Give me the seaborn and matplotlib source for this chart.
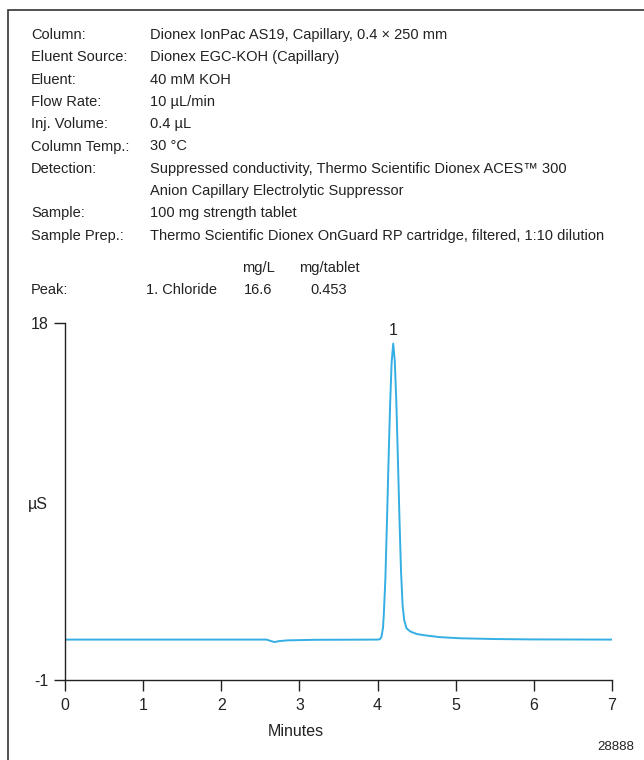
import matplotlib
matplotlib.use('Agg')
import matplotlib.pyplot as plt
import seaborn as sns
import pandas as pd
from matplotlib.patches import Rectangle

# chromatogram trace
minutes = [0.00, 2.58, 2.63, 2.68, 2.74, 2.85, 3.20, 4.00, 4.03, 4.05, 4.07, 4.08,
           4.10, 4.12, 4.14, 4.16, 4.18, 4.20, 4.22, 4.24, 4.26, 4.28, 4.30, 4.32,
           4.34, 4.37, 4.42, 4.50, 4.60, 4.80, 5.06, 5.50, 6.00, 7.00]
signal = [1.15, 1.15, 1.08, 1.02, 1.07, 1.11, 1.14, 1.15, 1.17, 1.30, 1.80, 2.50,
          4.40, 7.40, 10.6, 13.6, 15.9, 16.9, 16.0, 13.8, 10.8, 7.60, 4.80, 3.00,
          2.20, 1.75, 1.58, 1.45, 1.38, 1.28, 1.22, 1.18, 1.16, 1.15]

x_ticks = [0, 1, 2, 3, 4, 5, 6, 7]
y_ticks = [-1, 18]

cond_labels = ['Column:', 'Eluent Source:', 'Eluent:', 'Flow Rate:', 'Inj. Volume:',
               'Column Temp.:', 'Detection:', '', 'Sample:', 'Sample Prep.:']
cond_values = ['Dionex IonPac AS19, Capillary, 0.4 \u00d7 250 mm',
               'Dionex EGC-KOH (Capillary)',
               '40 mM KOH',
               '10 \u00b5L/min',
               '0.4 \u00b5L',
               '30 \u00b0C',
               'Suppressed conductivity, Thermo Scientific Dionex ACES\u2122 300',
               'Anion Capillary Electrolytic Suppressor',
               '100 mg strength tablet',
               'Thermo Scientific Dionex OnGuard RP cartridge, filtered, 1:10 dilution']

peak_names = ['1. Chloride']
peak_mgL = ['16.6']
peak_mgtab = ['0.453']

sns.set_style('ticks')
plt.rcParams['font.family'] = ['Liberation Sans', 'DejaVu Sans']
plt.rcParams['font.size'] = 10.5
plt.rcParams['axes.unicode_minus'] = False

W, H = 644, 760
fig = plt.figure(figsize=(W / 100, H / 100), dpi=100)

# frame round the whole panel
fig.patches.append(Rectangle((8 / W, -0.1), 1.2, 1 - 10 / H + 0.1, transform=fig.transFigure,
                             fill=False, edgecolor='#333333', linewidth=1.2))

def px(x, y):
    return x / W, 1 - y / H

ink = '#222222'
lh = 22.3
for i, (lab, val) in enumerate(zip(cond_labels, cond_values)):
    y = 35 + i * lh
    fig.text(*px(31, y), lab, va='center', ha='left', color=ink)
    fig.text(*px(150, y), val, va='center', ha='left', color=ink)

fig.text(*px(258, 268), 'mg/L', va='center', ha='center', color=ink)
fig.text(*px(329, 268), 'mg/tablet', va='center', ha='center', color=ink)
for i in range(len(peak_names)):
    y = 290 + i * lh
    fig.text(*px(31, y), 'Peak:', va='center', ha='left', color=ink)
    fig.text(*px(146, y), peak_names[i], va='center', ha='left', color=ink)
    fig.text(*px(258, y), peak_mgL[i], va='center', ha='center', color=ink)
    fig.text(*px(329, y), peak_mgtab[i], va='center', ha='center', color=ink)

ax = fig.add_axes([65 / W, 1 - 680 / H, (612 - 65) / W, (680 - 323) / H])
df = pd.DataFrame({'Minutes': minutes, 'uS': signal})
sns.lineplot(data=df, x='Minutes', y='uS', ax=ax, color='#35aee3', linewidth=1.4)

ax.set_xlim(0, 7)
ax.set_ylim(-1, 18)
ax.set_xticks(x_ticks)
ax.set_yticks(y_ticks)
ax.tick_params(axis='both', direction='out', length=8, width=1, color=ink,
               labelsize=11.5, labelcolor=ink)
ax.tick_params(axis='x', pad=5)
ax.tick_params(axis='y', pad=4)
ax.set_xlabel('')
ax.set_ylabel('')
sns.despine(ax=ax)
for s in ['left', 'bottom']:
    ax.spines[s].set_color(ink)
    ax.spines[s].set_linewidth(1)

fig.text(*px(296, 731), 'Minutes', ha='center', va='center', fontsize=11.5, color=ink)
fig.text(*px(38, 505), '\u00b5S', ha='center', va='center', fontsize=11.5, color=ink)
ax.annotate('1', xy=(4.20, 16.9), xytext=(0, 4), textcoords='offset points',
            ha='center', va='bottom', fontsize=11.5, color=ink)
fig.text(*px(634, 747), '28888', ha='right', va='center', fontsize=9.5, color=ink)

fig.savefig('out.png', dpi=100)
